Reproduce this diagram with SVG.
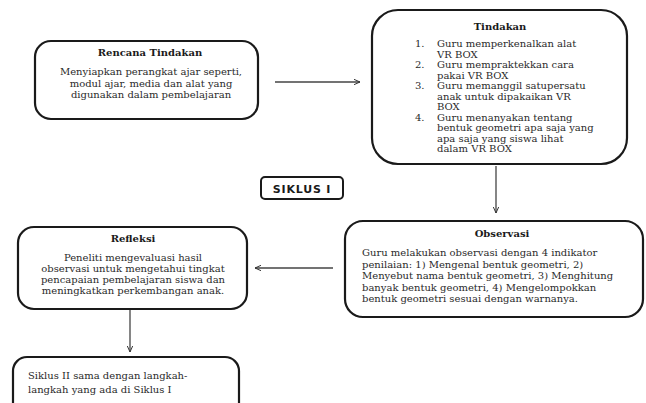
<svg xmlns="http://www.w3.org/2000/svg" width="646" height="403" viewBox="0 0 646 403">
<defs>
<marker id="ah" viewBox="0 0 10 10" refX="9" refY="5" markerWidth="7" markerHeight="7" orient="auto-start-reverse" markerUnits="userSpaceOnUse">
<path d="M0,1 L9,5 L0,9" fill="none" stroke="#333" stroke-width="1.4"/>
</marker>
<style>
.box{fill:#fff;stroke:#1a1a1a;stroke-width:2.2}
.t{font-family:"DejaVu Serif","Liberation Serif",serif;font-size:10px;fill:#2a2a2a}
.h{font-family:"DejaVu Serif","Liberation Serif",serif;font-size:10px;font-weight:bold;fill:#1a1a1a}
.c{text-anchor:middle}
.con{stroke:#444;stroke-width:1.3;fill:none;marker-end:url(#ah)}
</style>
</defs>
<rect width="646" height="403" fill="#fff"/>
<g id="rencana">
<rect class="box" x="35" y="41" width="223" height="78" rx="16"/>
<text class="h c" x="150" y="56">Rencana Tindakan</text>
<text class="t c" x="151" y="75">Menyiapkan perangkat ajar seperti,</text>
<text class="t c" x="151" y="86.5">modul ajar, media dan alat yang</text>
<text class="t c" x="151" y="98">digunakan dalam pembelajaran</text>
</g>
<g id="tindakan">
<rect class="box" x="372" y="10" width="255" height="154" rx="26"/>
<text class="h c" x="500" y="30">Tindakan</text>
<g class="t">
<text x="415" y="47">1.</text><text x="437" y="47">Guru memperkenalkan alat</text>
<text x="437" y="57.5">VR BOX</text>
<text x="415" y="68">2.</text><text x="437" y="68">Guru mempraktekkan cara</text>
<text x="437" y="78.5">pakai  VR BOX</text>
<text x="415" y="89">3.</text><text x="437" y="89">Guru memanggil satupersatu</text>
<text x="437" y="99.5">anak untuk dipakaikan VR</text>
<text x="437" y="110">BOX</text>
<text x="415" y="120.5">4.</text><text x="437" y="120.5">Guru menanyakan tentang</text>
<text x="437" y="131">bentuk geometri apa saja yang</text>
<text x="437" y="141.5">apa saja yang siswa lihat</text>
<text x="437" y="152">dalam VR BOX</text>
</g>
</g>
<g id="siklus1">
<rect x="261" y="177" width="82" height="22" rx="4" fill="#fff" stroke="#1a1a1a" stroke-width="2"/>
<text x="302" y="192.5" text-anchor="middle" font-family="'DejaVu Sans',sans-serif" font-size="11" font-weight="bold" letter-spacing="0.8" fill="#1a1a1a">SIKLUS I</text>
</g>
<g id="observasi">
<rect class="box" x="345" y="221" width="298" height="96" rx="18"/>
<text class="h c" x="502" y="237">Observasi</text>
<text class="t" x="362" y="256">Guru melakukan observasi dengan 4 indikator</text>
<text class="t" x="362" y="267.5">penilaian: 1) Mengenal bentuk geometri, 2)</text>
<text class="t" x="362" y="279">Menyebut nama bentuk geometri, 3) Menghitung</text>
<text class="t" x="362" y="290.5">banyak bentuk geometri, 4) Mengelompokkan</text>
<text class="t" x="362" y="302">bentuk geometri sesuai dengan warnanya.</text>
</g>
<g id="refleksi">
<rect class="box" x="18" y="227" width="229" height="82" rx="16"/>
<text class="h c" x="133" y="242">Refleksi</text>
<text class="t c" x="133" y="261">Peneliti mengevaluasi hasil</text>
<text class="t c" x="133" y="272">observasi untuk mengetahui tingkat</text>
<text class="t c" x="133" y="283">pencapaian pembelajaran siswa dan</text>
<text class="t c" x="133" y="294">meningkatkan perkembangan anak.</text>
</g>
<g id="siklus2">
<rect class="box" x="13" y="357" width="226" height="70" rx="14"/>
<text class="t" x="28" y="379">Siklus II sama dengan langkah-</text>
<text class="t" x="28" y="393">langkah yang ada di Siklus I</text>
</g>
<g id="connectors">
<line class="con" x1="275" y1="82" x2="360" y2="82"/>
<line class="con" x1="496" y1="166" x2="496" y2="213"/>
<line class="con" x1="333" y1="268" x2="255" y2="268"/>
<line class="con" x1="130" y1="310" x2="130" y2="352"/>
</g>
</svg>
